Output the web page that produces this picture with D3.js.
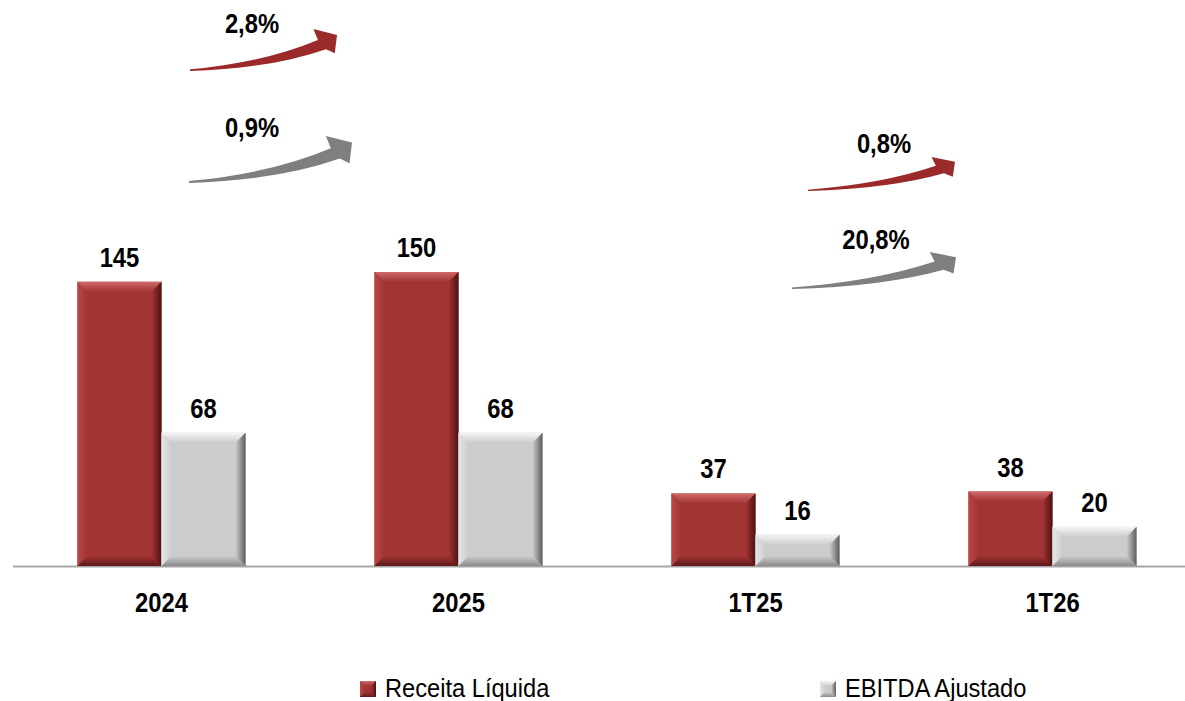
<!DOCTYPE html>
<html><head><meta charset="utf-8">
<script src="https://cdn.jsdelivr.net/npm/d3@7"></script>
<style>
html,body{margin:0;padding:0;background:#fff;}
svg{display:block;}
text{font-family:"Liberation Sans",Arial,sans-serif;}
</style></head>
<body><svg id="chart" width="1185" height="701"></svg>
<script>
const categories = ["2024", "2025", "1T25", "1T26"];
const seriesNames = ["Receita Líquida", "EBITDA Ajustado"];
const receita = [145, 150, 37, 38];
const ebitda = [68, 68, 16, 20];
const growthLabels = ["2,8%", "0,9%", "0,8%", "20,8%"];

const svg = d3.select("#chart");
const baseY = 566;
const NARROW = 0.85;

const x0 = d3.scaleBand().domain(categories).range([13, 1201]).paddingInner(0.434).paddingOuter(0.217);
const x1 = d3.scaleBand().domain(seriesNames).range([0, x0.bandwidth()]).padding(0);
const y = d3.scaleLinear().domain([0, 150]).range([baseY, 272]);

const palette = {
  "Receita Líquida": {main:"#a33434", topA:"#d06a6a", leftA:"#b84848", rightA:"#4e1212", bottomA:"#5e1818"},
  "EBITDA Ajustado": {main:"#cccccc", topA:"#f6f6f6", leftA:"#e6e6e6", rightA:"#5c5c5c", bottomA:"#8c8c8c"}
};

const defs = svg.append("defs");
function grad(id, x1_, y1_, x2_, y2_, c1, c2) {
  const g = defs.append("linearGradient").attr("id", id)
    .attr("x1", x1_).attr("y1", y1_).attr("x2", x2_).attr("y2", y2_);
  g.append("stop").attr("offset", "0%").attr("stop-color", c1);
  g.append("stop").attr("offset", "100%").attr("stop-color", c2);
}
Object.entries(palette).forEach(([k, c], i) => {
  c.id = "s" + i;
  grad(c.id + "top", 0, 0, 0, 1, c.topA, c.main);
  grad(c.id + "left", 0, 0, 1, 0, c.leftA, c.main);
  grad(c.id + "right", 0, 0, 1, 0, c.main, c.rightA);
  grad(c.id + "bottom", 0, 0, 0, 1, c.main, c.bottomA);
});

function bevelRect(g, x, yy, w, h, c, b) {
  b = Math.min(b, h / 2.2, w / 2.2);
  g.append("rect").attr("x", x).attr("y", yy).attr("width", w).attr("height", h).attr("fill", c.main);
  const poly = (pts, fill) => g.append("polygon").attr("points", pts.map(p => p.join(",")).join(" ")).attr("fill", fill);
  poly([[x, yy], [x + w, yy], [x + w - b, yy + b], [x + b, yy + b]], `url(#${c.id}top)`);
  poly([[x, yy], [x + b, yy + b], [x + b, yy + h - b], [x, yy + h]], `url(#${c.id}left)`);
  poly([[x + w, yy], [x + w, yy + h], [x + w - b, yy + h - b], [x + w - b, yy + b]], `url(#${c.id}right)`);
  poly([[x, yy + h], [x + b, yy + h - b], [x + w - b, yy + h - b], [x + w, yy + h]], `url(#${c.id}bottom)`);
}

function label(g, x, yy, txt, size, bold, anchor, sx) {
  return g.append("text").attr("transform", `translate(${x},${yy}) scale(${sx},1)`)
    .attr("text-anchor", anchor).attr("font-weight", bold ? "bold" : "normal")
    .attr("font-size", size).attr("fill", "#000").text(txt);
}

const data = categories.map((c, i) => ({cat: c, vals: [
  {s: seriesNames[0], v: receita[i]}, {s: seriesNames[1], v: ebitda[i]}]}));

// axis line
svg.append("line").attr("x1", 13).attr("x2", 1201).attr("y1", baseY + 0.5).attr("y2", baseY + 0.5)
  .attr("stroke", "#a6a6a6").attr("stroke-width", 2);

const groups = svg.selectAll("g.cat").data(data).join("g").attr("class", "cat")
  .attr("transform", d => `translate(${x0(d.cat)},0)`);

groups.each(function(d) {
  const g = d3.select(this);
  d.vals.forEach(p => {
    const bx = x1(p.s), by = y(p.v), bw = x1.bandwidth(), bh = baseY - y(p.v);
    bevelRect(g, bx, by, bw, bh, palette[p.s], 10);
    label(g, bx + bw / 2, by - 15, p.v, 28, true, "middle", NARROW);
  });
});

// category axis labels
const cg = svg.append("g");
categories.forEach(c => label(cg, x0(c) + x0.bandwidth() / 2, 612, c, 28, true, "middle", NARROW));

// growth arrows: tail(x,y) and box width/height
const arrows = [
  {label: growthLabels[0], color: "#9b2a2a", x: 190, y: 71, w: 147, h: 42, lx: 252, ly: 33},
  {label: growthLabels[1], color: "#7f7f7f", x: 189, y: 183, w: 163, h: 47, lx: 252, ly: 137},
  {label: growthLabels[2], color: "#9b2a2a", x: 808, y: 191, w: 147, h: 34, lx: 884, ly: 153},
  {label: growthLabels[3], color: "#7f7f7f", x: 792, y: 289, w: 164, h: 37, lx: 876, ly: 249}
];
function arrowPath(a) {
  const P = (u, v) => [a.x + u * a.w, a.y - v * a.h];
  const p = d3.path();
  const t0 = P(0, 0), t1 = P(0, 0.04);
  const lowEnd = P(0.925, 0.52), upEnd = P(0.87, 0.74);
  const barbBot = P(0.985, 0.42), tip = P(1.0, 0.86), barbTop = P(0.84, 1.0);
  const cLow = P(0.55, 0.06), cUp = P(0.5, 0.2);
  p.moveTo(...t0);
  p.quadraticCurveTo(...cLow, ...lowEnd);
  p.lineTo(...barbBot);
  p.lineTo(...tip);
  p.lineTo(...barbTop);
  p.lineTo(...upEnd);
  p.quadraticCurveTo(...cUp, ...t1);
  p.closePath();
  return p.toString();
}
const ag = svg.append("g");
arrows.forEach(a => {
  ag.append("path").attr("d", arrowPath(a)).attr("fill", a.color);
  label(ag, a.lx, a.ly, a.label, 28, true, "middle", NARROW);
});

// legend
const legend = [{s: seriesNames[0], x: 360}, {s: seriesNames[1], x: 820}];
legend.forEach(l => {
  const g = svg.append("g");
  bevelRect(g, l.x, 681, 16, 16, palette[l.s], 5);
  label(g, l.x + 25, 697, l.s, 26, false, "start", 0.91);
});
</script></body></html>
